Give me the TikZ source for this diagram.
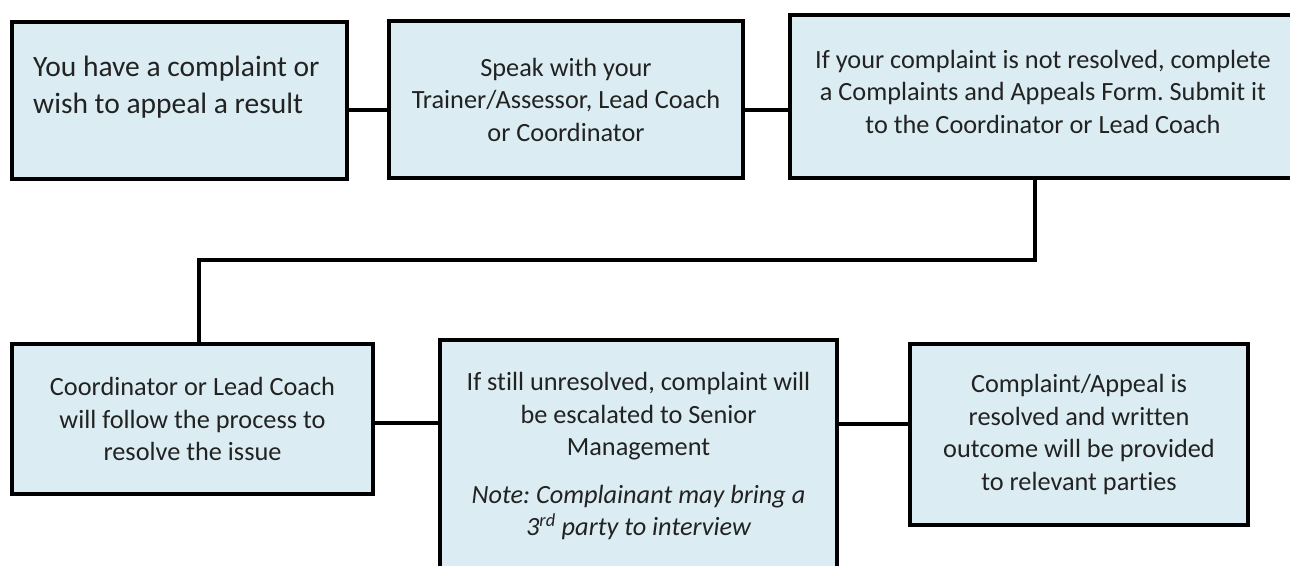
\documentclass[tikz,border=0pt]{standalone}
\usepackage{fontspec}
\setmainfont[Ligatures=NoCommon]{Carlito}
\frenchspacing
\definecolor{boxfill}{HTML}{DBEDF3}
\definecolor{txt}{HTML}{222222}
\tikzset{
  flowbox/.style={draw=black, fill=boxfill, line width=4pt, rectangle, inner sep=0pt,
    text=txt, align=center, font=\fontsize{26.3}{32.5}\selectfont},
  boxtext/.style={inner sep=0pt, text=txt, font=\fontsize{26.3}{32.5}\selectfont},
  link/.style={draw=black, line width=3.5pt}
}
\begin{document}
\begin{tikzpicture}[x=1pt,y=-1pt]
\useasboundingbox (0,0) rectangle (1290,565);
% boxes
\node[flowbox, minimum width=335pt, minimum height=157pt] (b1) at (179.5,100.5) {};
\node[flowbox, minimum width=354pt, minimum height=157pt] (b2) at (566,99.5)
  {Speak with your\\Trainer/Assessor, Lead Coach\\or Coordinator};
\node[flowbox, minimum width=506pt, minimum height=163pt] (b3) at (1043,96.5) {};
\node[flowbox, minimum width=361pt, minimum height=150pt] (b4) at (192.5,419)
  {Coordinator or Lead Coach\\will follow the process to\\resolve the issue};
\node[flowbox, minimum width=397pt, minimum height=260pt] (b5) at (638.5,470) {};
\node[flowbox, minimum width=338pt, minimum height=181pt] (b6) at (1079,434.5)
  {Complaint/Appeal is\\resolved and written\\outcome will be provided\\to relevant parties};
% texts placed separately
\node[boxtext, align=left, anchor=north west, font=\fontsize{29.5}{36.7}\selectfont] (t1) at (33,56)
  {You have a complaint or\\wish to appeal a result};
\node[boxtext, align=center] (t3) at (1043,91.5)
  {If your complaint is not resolved, complete\\a Complaints and Appeals Form. Submit it\\to the Coordinator or Lead Coach};
\node[boxtext, align=center] (t5) at (638.5,456)
  {If still unresolved, complaint will\\be escalated to Senior\\Management\\[15pt]
   \itshape Note: Complainant may bring a\\\itshape 3\textsuperscript{rd} party to interview};
% connectors
\coordinate (k1) at (1035,260);
\coordinate (k2) at (199,260);
\draw[link] ([yshift=-9.5pt]b1.east) -- ([yshift=-10.5pt]b2.west);
\draw[link] ([yshift=-10.5pt]b2.east) -- ([yshift=-13.5pt]b3.west);
\draw[link] ([xshift=-8pt]b3.south) -- (k1) -- (k2) -- ([xshift=6.5pt]b4.north);
\draw[link] ([yshift=-4pt]b4.east) -- ([yshift=47pt]b5.west);
\draw[link] ([yshift=46pt]b5.east) -- ([yshift=10.5pt]b6.west);
\end{tikzpicture}
\end{document}
